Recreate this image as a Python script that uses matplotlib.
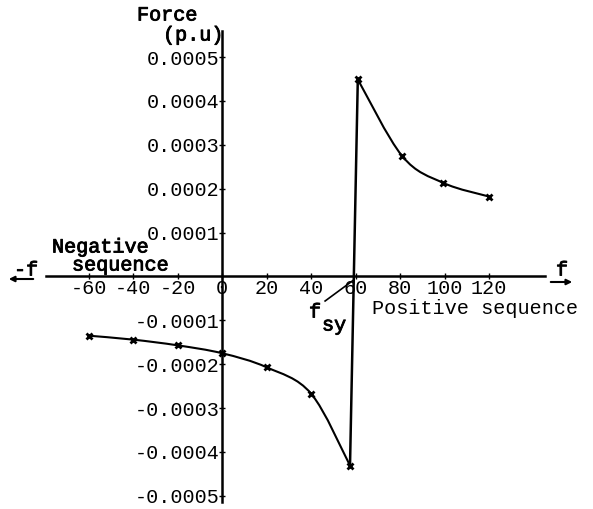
import matplotlib.pyplot as plt
import matplotlib.patheffects as pe
from matplotlib.path import Path
from matplotlib.patches import PathPatch

# negative branch (left of f_sy) and positive branch (right of f_sy)
neg_f = [-60, -40, -20, 0, 20, 40, 57.5]
neg_force = [-1.35e-4, -1.44e-4, -1.57e-4, -1.75e-4, -2.07e-4, -2.67e-4, -4.31e-4]
pos_f = [61, 81, 99.5, 120]
pos_force = [4.49e-4, 2.74e-4, 2.13e-4, 1.82e-4]

x_ticks = [-60, -40, -20, 0, 20, 40, 60, 80, 100, 120]
x_labels = ["-60", "-40", "-20", "0", "20", "40", "60", "80", "100", "120"]
y_ticks = [5e-4, 4e-4, 3e-4, 2e-4, 1e-4, -1e-4, -2e-4, -3e-4, -4e-4, -5e-4]
y_labels = ["0.0005", "0.0004", "0.0003", "0.0002", "0.0001",
            "-0.0001", "-0.0002", "-0.0003", "-0.0004", "-0.0005"]

W, H = 593, 509
FONT = "Liberation Mono"
FS = 14.5
heavy = [pe.withStroke(linewidth=0.6, foreground="black")]


def smooth_path(xs, ys):
    # catmull-rom through the points, drawn as cubic bezier
    pts = list(zip(xs, ys))
    verts = [pts[0]]
    codes = [Path.MOVETO]
    n = len(pts)
    for i in range(n - 1):
        p0 = pts[i - 1] if i > 0 else pts[i]
        p1 = pts[i]
        p2 = pts[i + 1]
        p3 = pts[i + 2] if i + 2 < n else pts[i + 1]
        c1 = (p1[0] + (p2[0] - p0[0]) / 6, p1[1] + (p2[1] - p0[1]) / 6)
        c2 = (p2[0] - (p3[0] - p1[0]) / 6, p2[1] - (p3[1] - p1[1]) / 6)
        verts += [c1, c2, p2]
        codes += [Path.CURVE4] * 3
    return Path(verts, codes)


def fpos(x, y):
    return x / W, 1 - y / H


fig = plt.figure(figsize=(W / 100, H / 100), dpi=100)
ax = fig.add_axes([0, 0, 1, 1])
ax.set_xlim(-99.8, 166.7)
ax.set_ylim(-5.3e-4, 6.3e-4)
ax.patch.set_visible(False)

for s in ["top", "right"]:
    ax.spines[s].set_visible(False)
ax.spines["left"].set_position(("data", 0))
ax.spines["bottom"].set_position(("data", 0))
ax.spines["left"].set_bounds(-5.15e-4, 5.6e-4)
ax.spines["bottom"].set_bounds(-79, 145)
ax.spines["left"].set_linewidth(1.8)
ax.spines["bottom"].set_linewidth(1.8)

ax.set_xticks(x_ticks)
ax.set_xticklabels(x_labels, fontfamily=FONT, fontsize=FS)
ax.set_yticks(y_ticks)
ax.set_yticklabels(y_labels, fontfamily=FONT, fontsize=FS)
ax.tick_params(axis="x", direction="inout", length=4, width=1, pad=0)
ax.tick_params(axis="y", direction="inout", length=4, width=1, pad=0)

# vertical line at f_sy
ax.plot([neg_f[-1], pos_f[0]], [neg_force[-1], pos_force[0]], color="black", lw=1.8)

ax.add_patch(PathPatch(smooth_path(neg_f, neg_force), fill=False, lw=1.5, color="black"))
ax.add_patch(PathPatch(smooth_path(pos_f, pos_force), fill=False, lw=1.5, color="black"))
ax.plot(neg_f, neg_force, ls="none", marker="x", ms=5, mew=2, color="black")
ax.plot(pos_f, pos_force, ls="none", marker="x", ms=5, mew=2, color="black")

# pointer for f_sy
ax.plot([46.3, 58.9], [-0.56e-4, -0.09e-4], color="black", lw=1.2)

txt = dict(fontfamily=FONT, fontsize=FS, va="center", ha="left")
fig.text(*fpos(137, 15), "Force", path_effects=heavy, **txt)
fig.text(*fpos(163, 35), "(p.u)", path_effects=heavy, **txt)
fig.text(*fpos(52, 247), "Negative", path_effects=heavy, **txt)
fig.text(*fpos(72, 265), "sequence", path_effects=heavy, **txt)
fig.text(*fpos(14, 270), "-f", path_effects=heavy, **txt)
fig.text(*fpos(556, 270), "f", path_effects=heavy, **txt)
fig.text(*fpos(372, 309), "Positive sequence", **txt)
fig.text(*fpos(309, 312), "f", path_effects=heavy, **txt)
fig.text(*fpos(322, 325), "sy", path_effects=heavy, **txt)

arrow = dict(arrowstyle="-|>", color="black", lw=1.5, mutation_scale=8)
ax.annotate("", xy=fpos(6, 279), xytext=fpos(36, 279),
            xycoords="figure fraction", textcoords="figure fraction", arrowprops=arrow)
ax.annotate("", xy=fpos(575, 282), xytext=fpos(548, 282),
            xycoords="figure fraction", textcoords="figure fraction", arrowprops=arrow)

fig.savefig("out.png", dpi=100)
